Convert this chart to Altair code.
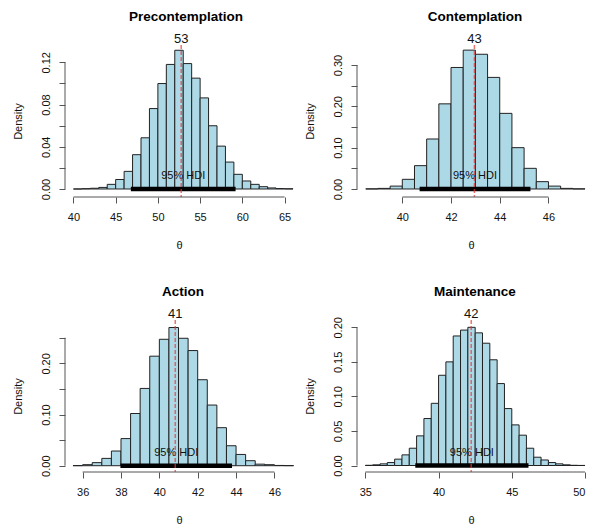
import altair as alt
import pandas as pd

# ---------------- data ----------------
titles = ["Precontemplation", "Contemplation", "Action", "Maintenance"]
bin_start = [40.0, 38.5, 35.5, 35.0]
bin_width = [1.0, 0.5, 0.5, 0.5]

dens_pre = [0.0, 0.0003, 0.0007, 0.0015, 0.0044, 0.009, 0.0167, 0.0325, 0.0485,
            0.0762, 0.0999, 0.118, 0.1314, 0.1188, 0.105, 0.0863, 0.0599, 0.0406,
            0.0255, 0.0139, 0.0076, 0.0044, 0.0022, 0.001, 0.0004, 0.0002]
dens_con = [0.0003, 0.0015, 0.007, 0.0234, 0.0565, 0.121, 0.206, 0.294, 0.336,
            0.326, 0.270, 0.183, 0.100, 0.050, 0.0178, 0.007, 0.0015, 0.0003]
dens_act = [0.0002, 0.002, 0.006, 0.0143, 0.0287, 0.053, 0.102, 0.151, 0.214,
            0.247, 0.270, 0.249, 0.225, 0.168, 0.1185, 0.0743, 0.039, 0.022,
            0.0098, 0.003, 0.002, 0.0005, 0.0002]
dens_mai = [0.0003, 0.001, 0.0024, 0.0043, 0.0092, 0.0154, 0.025, 0.0429, 0.068,
            0.090, 0.1306, 0.150, 0.1875, 0.196, 0.200, 0.192, 0.177, 0.153,
            0.1186, 0.0824, 0.0588, 0.0439, 0.025, 0.012, 0.008, 0.0043, 0.0024,
            0.001, 0.0003, 0.0001]
densities = [dens_pre, dens_con, dens_act, dens_mai]

means = [52.76, 42.96, 40.83, 42.23]
mode_labels = ["53", "43", "41", "42"]
hdi_lo = [46.8, 40.71, 37.97, 38.41]
hdi_hi = [59.2, 45.26, 43.79, 46.14]
hdi_text = "95% HDI"

x_ticks = [[40, 45, 50, 55, 60, 65], [40, 42, 44, 46], [36, 38, 40, 42, 44, 46], [35, 40, 45, 50]]
y_ticks = [[0, 0.02, 0.04, 0.06, 0.08, 0.10, 0.12],
           [0, 0.05, 0.10, 0.15, 0.20, 0.25, 0.30],
           [0, 0.05, 0.10, 0.15, 0.20, 0.25],
           [0, 0.05, 0.10, 0.15, 0.20]]
y_labeled = [["0.00", "0.04", "0.08", "0.12"],
             ["0.00", "0.10", "0.20", "0.30"],
             ["0.00", "0.10", "0.20"],
             ["0.00", "0.05", "0.10", "0.15", "0.20"]]

# ---------------- layout / style ----------------
W, H = 228, 152
x_domains = [[39.0, 66.0], [38.14, 47.5], [35.08, 46.97], [34.43, 50.0]]
y_domains = [[-0.00758, 0.1364], [-0.01936, 0.3484], [-0.0123, 0.2847], [-0.0094, 0.2106]]
title_dx = [7, 4, 4, 4]
FONT = "Liberation Sans"
TXT = "#111111"
AXC = "#555555"


def panel(i):
    d = densities[i]
    n = len(d)
    x0 = [bin_start[i] + k * bin_width[i] for k in range(n)]
    x1 = [v + bin_width[i] for v in x0]
    bars_df = pd.DataFrame({"x0": x0, "x1": x1, "d": d, "z": [0.0] * n})
    info = pd.DataFrame({
        "mean": [means[i]], "lo": [hdi_lo[i]], "hi": [hdi_hi[i]],
        "mid": [(hdi_lo[i] + hdi_hi[i]) / 2], "z": [0.0],
        "label": [mode_labels[i]], "hdi": [hdi_text],
        "xa0": [x_ticks[i][0]], "xa1": [x_ticks[i][-1]],
        "ya0": [y_ticks[i][0]], "ya1": [y_ticks[i][-1]],
    })
    xs = alt.Scale(domain=x_domains[i], nice=False, zero=False)
    ys = alt.Scale(domain=y_domains[i], nice=False, zero=False)

    lab_list = "[" + ",".join("'%s'" % s for s in y_labeled[i]) + "]"
    y_axis = alt.Axis(
        values=y_ticks[i], domain=False, grid=False, tickSize=6, tickColor=AXC,
        labelExpr="indexof(%s, format(datum.value, '.2f')) >= 0 ? format(datum.value, '.2f') : ''" % lab_list,
        labelAngle=270, labelAlign="center", labelBaseline="bottom", labelPadding=8,
        labelFontSize=11, labelColor=TXT, labelFont=FONT, labelOverlap=False,
        title="Density", titleFontSize=11, titleFontWeight="normal", titleColor=TXT,
        titleFont=FONT, titleX=-47, titleBaseline="middle", titleAngle=270,
    )
    x_axis = alt.Axis(
        values=x_ticks[i], domain=False, grid=False, tickSize=6, tickColor=AXC,
        format="d", labelFontSize=11, labelColor=TXT, labelFont=FONT, labelPadding=8,
        labelOverlap=False,
        title="θ", titleFontSize=11, titleFontWeight="normal", titleColor=TXT,
        titleFont=FONT, titleY=51, titleBaseline="alphabetic",
    )

    bars = alt.Chart(bars_df).mark_rect(fill="#ADD8E6", stroke="#222222", strokeWidth=1).encode(
        x=alt.X("x0:Q", scale=xs, axis=x_axis),
        x2="x1",
        y=alt.Y("d:Q", scale=ys, axis=y_axis),
        y2="z",
    )
    base = alt.Chart(info)
    hdi_bar = base.mark_rule(color="black", strokeWidth=4.5, strokeCap="butt").encode(
        x=alt.X("lo:Q", scale=xs, axis=x_axis), x2="hi",
        y=alt.Y("z:Q", scale=ys, axis=y_axis),
    )
    hdi_lab = base.mark_text(font=FONT, fontSize=11, color=TXT, dy=-13, baseline="middle").encode(
        x=alt.X("mid:Q", scale=xs, axis=x_axis),
        y=alt.Y("z:Q", scale=ys, axis=y_axis),
        text="hdi:N",
    )
    mean_line = base.mark_rule(color="#ee3333", strokeDash=[4, 2], strokeWidth=1.5, opacity=0.7).encode(
        x=alt.X("mean:Q", scale=xs, axis=x_axis),
    )
    mode_lab = base.mark_text(font=FONT, fontSize=13, color=TXT, baseline="middle").encode(
        x=alt.X("mean:Q", scale=xs, axis=x_axis),
        y=alt.value(-6.5),
        text="label:N",
    )
    x_line = base.mark_rule(color=AXC, strokeWidth=1).encode(
        x=alt.X("xa0:Q", scale=xs, axis=x_axis), x2="xa1", y=alt.value(H),
    )
    y_line = base.mark_rule(color=AXC, strokeWidth=1).encode(
        y=alt.Y("ya0:Q", scale=ys, axis=y_axis), y2="ya1", x=alt.value(0),
    )
    return alt.layer(bars, hdi_bar, hdi_lab, mean_line, mode_lab, x_line, y_line).properties(
        width=W, height=H,
        title=alt.TitleParams(text=titles[i], font=FONT, fontSize=13.5, fontWeight="bold",
                              color="black", anchor="middle", dx=title_dx[i], offset=-2,
                              baseline="alphabetic"),
    )


chart = alt.concat(panel(0), panel(1), panel(2), panel(3), columns=2,
                   spacing={"row": 123, "column": 64}, bounds="flush").properties(
    padding={"left": 12, "top": 10, "right": 0, "bottom": 0},
    background="white",
).configure(font=FONT).configure_view(stroke=None)

chart.save("out.html", embed_options={"renderer": "svg", "actions": False})
